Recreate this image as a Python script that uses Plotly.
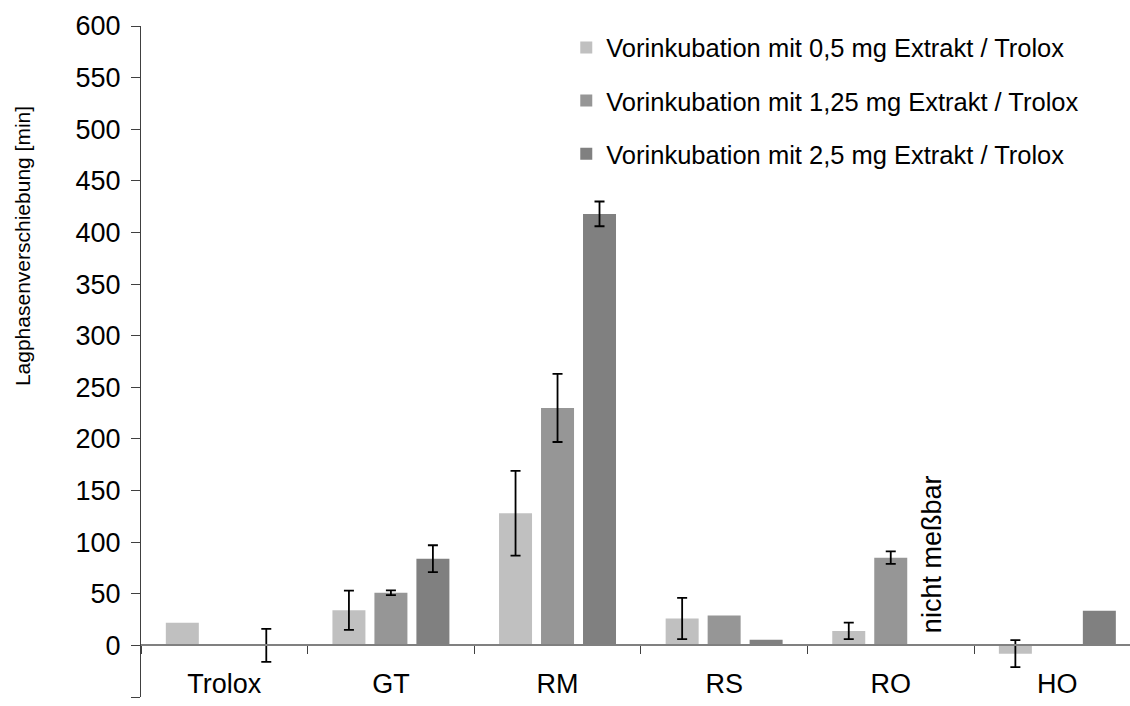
import plotly.graph_objects as go

categories = ["Trolox", "GT", "RM", "RS", "RO", "HO"]
series_names = [
    "Vorinkubation mit 0,5 mg Extrakt / Trolox",
    "Vorinkubation mit 1,25 mg Extrakt / Trolox",
    "Vorinkubation mit 2,5 mg Extrakt / Trolox",
]
vals_05 = [22, 34, 128, 26, 14, -8]
err_05 = [None, 19, 41, 20, 8, 13]
vals_125 = [1, 51, 230, 29, 85, 1]
err_125 = [None, 2.3, 33, None, 6, None]
vals_25 = [0, 84, 418, 5.5, None, 33.5]
err_25 = [16, 13, 12, None, None, None]
colors = ["#c0c0c0", "#969696", "#808080"]
annotation_text = "nicht meßbar"
y_title = "Lagphasenverschiebung [min]"
y_ticks = list(range(-50, 601, 50))

FONT = "Liberation Sans, Arial, sans-serif"


def err_array(errs):
    # "NaN" strings make plotly.js skip the error bar for that point
    return ["NaN" if e is None else e for e in errs]


fig = go.Figure()
for name, v, e, c in zip(series_names, [vals_05, vals_125, vals_25], [err_05, err_125, err_25], colors):
    fig.add_trace(go.Bar(
        x=categories, y=v, name=name, legendgroup=name,
        marker=dict(color=c, line=dict(width=0)),
        error_y=dict(type="data", array=err_array(e), visible=True, color="black", thickness=1.8, width=5),
    ))

fig.add_annotation(
    x="RO", y=0, xref="x", yref="y", xshift=42, yshift=10,
    text=annotation_text, textangle=-90, showarrow=False,
    xanchor="center", yanchor="bottom",
    font=dict(family=FONT, size=27, color="black"),
)
fig.add_annotation(
    x=-0.1203, y=0.672, xref="paper", yref="paper",
    text=y_title, textangle=-90, showarrow=False,
    xanchor="center", yanchor="middle",
    font=dict(family=FONT, size=21, color="black"),
)

fig.update_layout(
    width=1130, height=706,
    margin=dict(l=141, r=0, t=26, b=9, pad=0),
    paper_bgcolor="white", plot_bgcolor="white",
    barmode="group", bargap=0.244, bargroupgap=0.214,
    font=dict(family=FONT, size=26, color="black"),
    legend=dict(
        x=0.43, y=1.0025, xanchor="left", yanchor="top",
        font=dict(family=FONT, size=25.5, color="black"),
        bgcolor="rgba(0,0,0,0)", tracegroupgap=17,
        traceorder="grouped",
    ),
    xaxis=dict(
        range=[-0.5, 5.436], anchor="free", position=50 / 650,
        showline=True, linecolor="#808080", linewidth=2,
        ticks="outside", tickson="boundaries", ticklen=8, tickcolor="#404040", tickwidth=1,
        showgrid=False, zeroline=False, ticklabelstandoff=14,
        tickfont=dict(family=FONT, size=27, color="black"),
    ),
    yaxis=dict(
        range=[-50, 600], tickvals=y_ticks,
        showline=True, linecolor="#404040", linewidth=1,
        ticks="outside", ticklen=9, tickcolor="#404040",
        showgrid=False, zeroline=False, ticklabelstandoff=5,
        tickfont=dict(family=FONT, size=27, color="black"),
    ),
)

fig.write_html("out.html")
